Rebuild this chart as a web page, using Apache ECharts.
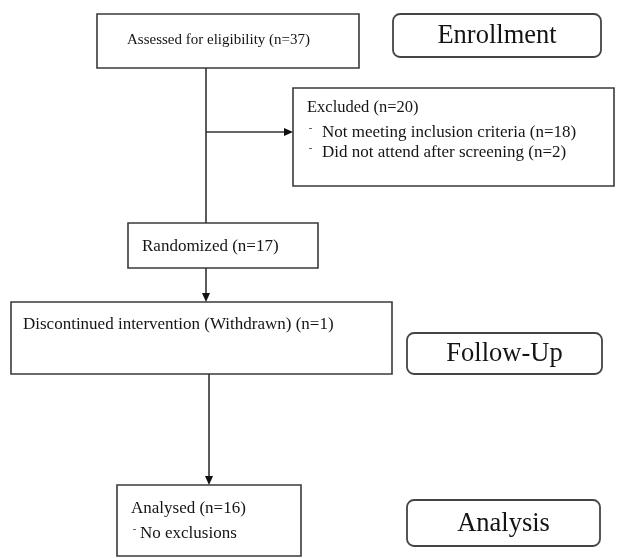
<!DOCTYPE html>
<html>
<head>
<meta charset="utf-8">
<script src="https://cdn.jsdelivr.net/npm/echarts@6/dist/echarts.min.js"></script>
<style>
  html, body { margin: 0; padding: 0; background: #fff; }
  #main { width: 620px; height: 558px; }
</style>
</head>
<body>
<div id="main"></div>
<script>
// flow boxes (diagram units = picture pixels)
const boxTitles = [
  "Assessed for eligibility (n=37)",
  "Excluded (n=20)",
  "Randomized (n=17)",
  "Discontinued intervention (Withdrawn) (n=1)",
  "Analysed (n=16)",
];
const boxBullets = [
  [],
  ["Not meeting inclusion criteria (n=18)", "Did not attend after screening (n=2)"],
  [],
  [],
  ["No exclusions"],
];
// x0, y0, x1, y1
const boxEdges = [
  [97, 14, 359, 68],
  [293, 88, 614, 186],
  [128, 223, 318, 268],
  [11, 302, 392, 374],
  [117, 485, 301, 556],
];

// stage labels on the right
const stageNames = ["Enrollment", "Follow-Up", "Analysis"];
const stageEdges = [
  [393, 14, 601, 57],
  [407, 333, 602, 374],
  [407, 500, 600, 546],
];

// connectors: x0, y0, x1, y1, has arrow (1/0)
const links = [
  [206, 68, 206, 223, 0],
  [206, 132, 293, 132, 1],
  [206, 268, 206, 302, 1],
  [209, 374, 209, 485, 1],
];

const SERIF = '"Liberation Serif", "Times New Roman", serif';
const titleInset = [30, 14, 14, 12, 14];
const titleDy = [26, 20, 24, 23, 24];
const titleSize = [15, 16.5, 17, 17, 17];
const bulletIndent = [0, 15, 0, 0, 9];

const chart = echarts.init(document.getElementById("main"));

function boxItem(params, api) {
  const i = params.dataIndex;
  const p0 = api.coord([api.value(0), api.value(1)]);
  const p1 = api.coord([api.value(2), api.value(3)]);
  const kids = [
    {
      type: "rect",
      shape: { x: p0[0], y: p0[1], width: p1[0] - p0[0], height: p1[1] - p0[1] },
      style: { fill: "#fff", stroke: "#3a3a3a", lineWidth: 1.6 },
    },
    {
      type: "text",
      x: p0[0] + titleInset[i],
      y: p0[1] + titleDy[i],
      style: {
        text: boxTitles[i],
        fill: "#141414",
        font: titleSize[i] + "px " + SERIF,
        verticalAlign: "middle",
      },
    },
  ];
  boxBullets[i].forEach((b, k) => {
    const by = p0[1] + titleDy[i] + 25 + k * 20;
    // little raised dash used as the bullet
    kids.push({
      type: "rect",
      shape: { x: p0[0] + titleInset[i] + 2, y: by - 5, width: 3, height: 1 },
      style: { fill: "#666" },
    });
    kids.push({
      type: "text",
      x: p0[0] + titleInset[i] + bulletIndent[i],
      y: by,
      style: { text: b, fill: "#141414", font: "17px " + SERIF, verticalAlign: "middle" },
    });
  });
  return { type: "group", children: kids };
}

function stageItem(params, api) {
  const i = params.dataIndex;
  const p0 = api.coord([api.value(0), api.value(1)]);
  const p1 = api.coord([api.value(2), api.value(3)]);
  return {
    type: "group",
    children: [
      {
        type: "rect",
        shape: { x: p0[0], y: p0[1], width: p1[0] - p0[0], height: p1[1] - p0[1], r: 7 },
        style: { fill: "#fff", stroke: "#444", lineWidth: 1.8 },
      },
      {
        type: "text",
        x: (p0[0] + p1[0]) / 2,
        y: (p0[1] + p1[1]) / 2 + 1,
        style: {
          text: stageNames[i],
          fill: "#141414",
          font: "26.5px " + SERIF,
          align: "center",
          verticalAlign: "middle",
        },
      },
    ],
  };
}

function linkItem(params, api) {
  const a = api.coord([api.value(0), api.value(1)]);
  const b = api.coord([api.value(2), api.value(3)]);
  const arrow = api.value(4) === 1;
  const kids = [];
  const horiz = Math.abs(b[1] - a[1]) < 1;
  const hl = arrow ? 8 : 0;
  const end = horiz ? [b[0] - hl, b[1]] : [b[0], b[1] - hl];
  kids.push({
    type: "line",
    shape: { x1: a[0], y1: a[1], x2: end[0], y2: end[1] },
    style: { stroke: "#333", lineWidth: 1.6 },
  });
  if (arrow) {
    const pts = horiz
      ? [[b[0], b[1]], [b[0] - 9, b[1] - 4], [b[0] - 9, b[1] + 4]]
      : [[b[0], b[1]], [b[0] - 4, b[1] - 9], [b[0] + 4, b[1] - 9]];
    kids.push({ type: "polygon", shape: { points: pts }, style: { fill: "#111" } });
  }
  return { type: "group", children: kids };
}

chart.setOption({
  animation: false,
  backgroundColor: "#fff",
  grid: { left: 0, right: 0, top: 0, bottom: 0 },
  xAxis: { type: "value", min: 0, max: 620, show: false },
  yAxis: { type: "value", min: 0, max: 558, inverse: true, show: false },
  series: [
    { type: "custom", renderItem: linkItem, data: links, silent: true, z: 3 },
    { type: "custom", renderItem: boxItem, data: boxEdges, silent: true, z: 2 },
    { type: "custom", renderItem: stageItem, data: stageEdges, silent: true, z: 2 },
  ],
});
</script>
</body>
</html>
